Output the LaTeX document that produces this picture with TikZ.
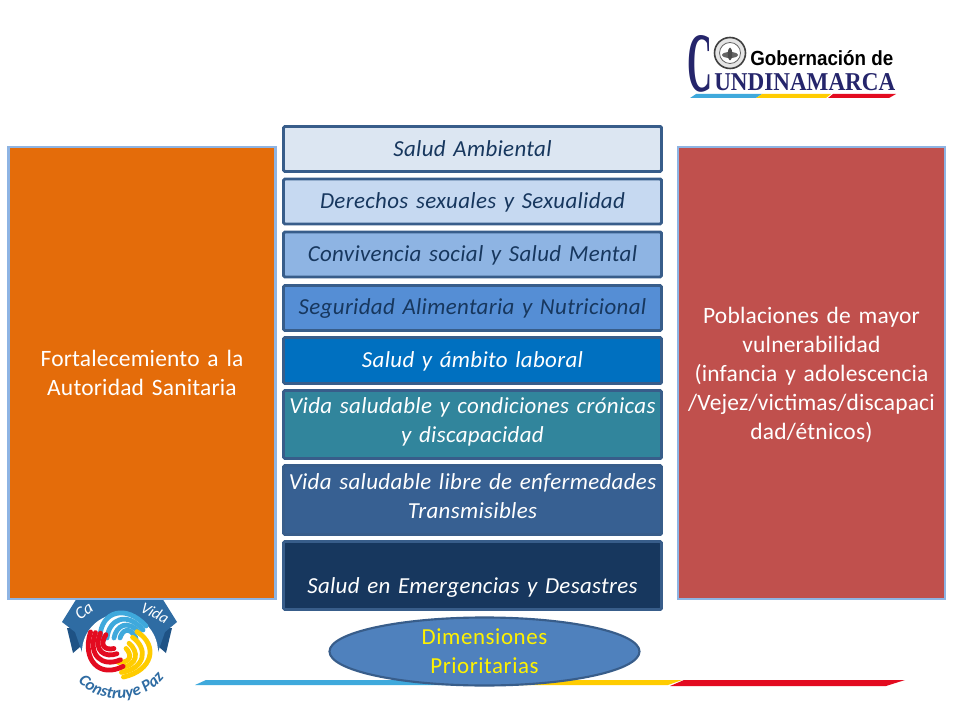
\documentclass[tikz,border=0pt]{standalone}
\usepackage{fontspec}
\setmainfont{Carlito}
\newfontfamily\logoserif{Liberation Serif}
\newfontfamily\logosans{Liberation Sans}
\newfontfamily\panelfam[WordSpace=0.45,LetterSpace=0.8]{Carlito}
\newfontfamily\dimfam[WordSpace=0.7,LetterSpace=1.5]{Carlito}
\usetikzlibrary{decorations.text,shapes.geometric}
\definecolor{edgeblue}{HTML}{385D8A}
\definecolor{paneledge}{HTML}{8EB4E3}
\definecolor{inkblue}{HTML}{17375E}
\definecolor{orangefill}{HTML}{E46C0A}
\definecolor{redfill}{HTML}{C0504D}
\definecolor{ellfill}{HTML}{4F81BD}
\definecolor{stripeblue}{HTML}{3FA9DC}
\definecolor{stripeyellow}{HTML}{FFCC00}
\definecolor{stripered}{HTML}{E30B20}
\definecolor{ribbon}{HTML}{2F6CA3}
\definecolor{ribbondark}{HTML}{1E5285}
\definecolor{logonavy}{HTML}{25256B}
\definecolor{dimA}{HTML}{DCE6F2}
\definecolor{dimB}{HTML}{C6D9F1}
\definecolor{dimC}{HTML}{8EB4E3}
\definecolor{dimD}{HTML}{558ED5}
\definecolor{dimE}{HTML}{0070C0}
\definecolor{dimF}{HTML}{31859C}
\definecolor{dimG}{HTML}{376092}
\definecolor{dimH}{HTML}{17375E}
\newdimen\pxu \pxu=0.75pt
\newcommand{\dimfont}{\dimfam\fontsize{17.2}{21.8}\selectfont\itshape}
\newcommand{\panelfont}{\panelfam\fontsize{17.6}{21.8}\selectfont}
\newcommand{\swoosh}[1]{%
  \foreach \a/\b/\c/\d/\e/\f/\g/\h in {100/637/101/611/126/604/146/626,107/638/109/619/127/611/143/630,114/638/116/626/128/618/140/634,120/638/122/631/129/625/136/638}{
    \draw[#1,line width=3.6pt,line cap=round] (\a,\b) .. controls (\c,\d) and (\e,\f) .. (\g,\h);
  }}
\tikzset{
  dimbox/.style={draw=edgeblue,line width=2.2pt,rounded corners=1pt,inner sep=0pt,align=center,text width=374\pxu,minimum width=378\pxu,font=\dimfont},
  panel/.style={draw=paneledge,line width=2.2pt,inner sep=0pt,align=center,minimum width=267\pxu,minimum height=452\pxu,font=\panelfont,text=white},
  liftup/.style={execute at end node={\par\vspace{#1\pxu}}},
}
\begin{document}
\begin{tikzpicture}[x=0.75pt,y=-0.75pt]
\useasboundingbox (0,0) rectangle (960,720);
\fill[white] (0,0) rectangle (960,720);
% Gobernacion logo
\node[inner sep=0pt,text=logonavy] (bigc) at (700,64) {\resizebox{25\pxu}{56\pxu}{\logoserif\bfseries C}};
\node[inner sep=0pt,text=black,anchor=base west] (gob) at (750,66) {\resizebox{143\pxu}{15\pxu}{\logosans\bfseries Gobernación de}};
\node[inner sep=0pt,text=logonavy,anchor=base west] (cund) at (714,91) {\resizebox{181\pxu}{17\pxu}{\logoserif\bfseries UNDINAMARCA}};
\draw[black!75,line width=1.2pt,fill=black!10] (730,53) circle (15.5);
\draw[black!60,line width=.6pt,fill=white] (730,53) circle (10.5);
\fill[black!60] (730,55) ellipse (8 and 3);
\fill[black!70] (730,54) ellipse (2.2 and 6.5);
\fill[stripeblue] (690,98) -- (696,94) -- (762,94) -- (756,98) -- cycle;
\fill[stripeyellow] (756,98) -- (762,94) -- (831,94) -- (826,98) -- cycle;
\fill[stripered] (828,98) -- (833,94) -- (896,94) -- (889,98) -- cycle;
% Construye Paz logo
\fill[ribbondark] (67,628) -- (73,653) -- (80,647) -- (89,653) -- (84,628) -- cycle;
\fill[ribbondark] (172,628) -- (166,653) -- (159,647) -- (150,653) -- (155,628) -- cycle;
\fill[ribbon] (62,622) -- (77,598) -- (162,598) -- (177,622) -- (165,632) -- (158,652) -- (82,652) -- (75,632) -- cycle;
\fill[white] (120,652) circle (38);
\fill[white] (82,652) rectangle (158,700);
\node[inner sep=0pt,text=white,rotate=35,font=\fontsize{13}{13}\selectfont\itshape] (ca) at (84,611) {Ca};
\node[inner sep=0pt,text=white,rotate=-28,font=\fontsize{12}{12}\selectfont\itshape] (vida) at (155,613) {Vida};
\swoosh{stripeblue}
\begin{scope}[rotate around={-120:(120,645)}]\swoosh{stripeyellow}\end{scope}
\begin{scope}[rotate around={120:(120,645)}]\swoosh{stripered}\end{scope}
\path[decorate,decoration={text along path,text align=center,text={|\fontsize{12.5}{12.5}\selectfont\bfseries\itshape\color{ribbon}|Construye Paz}}] (74,676) .. controls (92,705) and (146,708) .. (168,672);
% bottom stripe
\fill[stripeblue] (195,685) -- (206,680) -- (460,680) -- (450,685) -- cycle;
\fill[stripeyellow] (500,685) -- (510,680) -- (682,680) -- (668,685) -- cycle;
\fill[stripered] (670,686) -- (684,680) -- (905,680) -- (886,686) -- cycle;
% panels
\node[panel,fill=orangefill,text width=250\pxu] (left) at (142,373) {Fortalecemiento a la\\Autoridad Sanitaria};
\node[panel,fill=redfill,text width=262\pxu,liftup=-4] (right) at (811.5,373) {Poblaciones de mayor\\vulnerabilidad\\(infancia y adolescencia\\/Vejez/victimas/discapaci\\dad/étnicos)};
% dimensions
\node[dimbox,fill=dimA,text=inkblue,minimum height=45\pxu] (d1) at (472.5,149) {Salud Ambiental};
\node[dimbox,fill=dimB,text=inkblue,minimum height=45\pxu,liftup=-2] (d2) at (472.5,201.5) {Derechos sexuales y Sexualidad};
\node[dimbox,fill=dimC,text=inkblue,minimum height=45\pxu,liftup=-2] (d3) at (472.5,254.5) {Convivencia social y Salud Mental};
\node[dimbox,fill=dimD,text=inkblue,minimum height=45\pxu,liftup=-2] (d4) at (472.5,308) {Seguridad Alimentaria y Nutricional};
\node[dimbox,fill=dimE,text=white,minimum height=46\pxu,liftup=-2] (d5) at (472.5,360.5) {Salud y ámbito laboral};
\node[dimbox,fill=dimF,text=white,minimum height=68\pxu,liftup=6] (d6) at (472.5,424.5) {Vida saludable y condiciones crónicas\\y discapacidad};
\node[dimbox,fill=dimG,text=white,minimum height=69\pxu,liftup=8] (d7) at (472.5,500) {Vida saludable libre de enfermedades\\Transmisibles};
\node[dimbox,fill=dimH,text=white,minimum height=68\pxu,liftup=10] (d8) at (472.5,575.5) {\strut\\Salud en Emergencias y Desastres};
\node[ellipse,draw=edgeblue,line width=1.6pt,fill=ellfill,text=yellow,inner sep=0pt,minimum width=310\pxu,minimum height=68\pxu,align=center,font=\fontsize{17.2}{21.8}\selectfont\addfontfeature{LetterSpace=2.5}] (dimens) at (484.5,651.5) {Dimensiones\\Prioritarias};
\end{tikzpicture}
\end{document}
